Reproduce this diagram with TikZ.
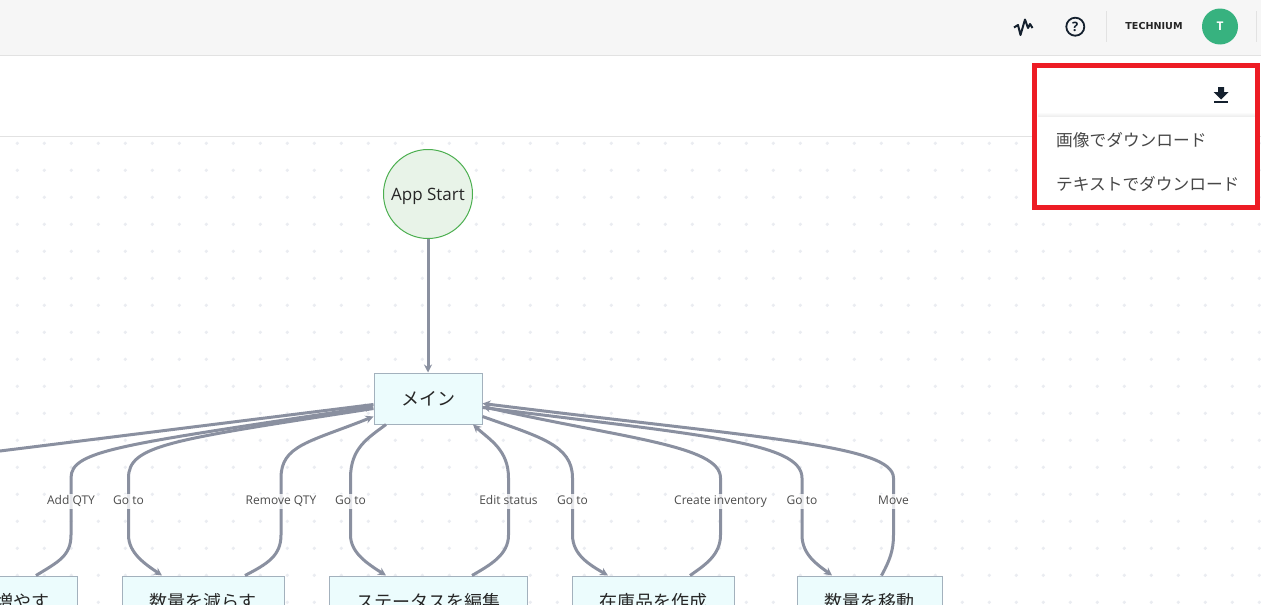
\documentclass[tikz,border=0pt]{standalone}
\usepackage{fontspec}
\setmainfont{Open Sans}
\newfontfamily\jpfont{Noto Sans CJK JP}
\newfontfamily\logofont{DejaVu Sans}
\usetikzlibrary{arrows.meta}
\definecolor{headbg}{HTML}{F6F6F6}
\definecolor{rulegray}{HTML}{E2E2E2}
\definecolor{griddot}{HTML}{EAECF1}
\definecolor{flowgray}{HTML}{8A90A0}
\definecolor{boxfill}{HTML}{ECFCFD}
\definecolor{boxline}{HTML}{A3B1BD}
\definecolor{startfill}{HTML}{E8F3E8}
\definecolor{startline}{HTML}{4CAF50}
\definecolor{iconink}{HTML}{14202E}
\definecolor{avatar}{HTML}{37B27F}
\definecolor{alertred}{HTML}{ED1C24}
\tikzset{
  flowline/.style={draw=flowgray,line width=3pt},
  toarrow/.style={flowline,-{Stealth[length=8pt,width=8pt]}},
  flowlabel/.style={fill=white,fill opacity=.8,text opacity=1,text=black!70,inner sep=1.5pt,text height=9pt,text depth=3pt,yshift=-1.5pt,font=\fontsize{12}{14}\selectfont},
  stepbox/.style={draw=boxline,fill=boxfill,line width=1pt,minimum height=51pt,inner sep=0pt,font=\jpfont\fontsize{18}{20}\selectfont,text=black!85},
  menuitem/.style={anchor=west,inner sep=0pt,text=black!72,font=\jpfont\fontsize{16.7}{18}\selectfont},
}
\begin{document}
\begin{tikzpicture}[x=1pt,y=-1pt]
\useasboundingbox (0,0) rectangle (1261,605);
\clip (0,0) rectangle (1261,605);
\fill[white] (0,0) rectangle (1261,605);
% header
\fill[headbg] (0,0) rectangle (1261,55);
\draw[rulegray,line width=1pt] (0,55.5)--(1261,55.5);
\draw[rulegray,line width=1pt] (0,136.5)--(1261,136.5);
\draw[rulegray,line width=1pt] (1106.5,11)--(1106.5,42);
\draw[rulegray,line width=1pt] (1256.5,11)--(1256.5,42);
% dots
\foreach \col in {0,...,46}
  \foreach \row in {0,...,17}
    \fill[griddot] (17.3+27*\col,143.3+27*\row) circle[radius=1.8pt];
% nodes
\node[circle,draw=startline,fill=startfill,line width=1pt,minimum size=89pt,inner sep=0pt,text=black!85,font=\fontsize{17}{19}\selectfont] (appstart) at (428,194) {\raisebox{-6pt}[0pt][0pt]{App Start}};
\node[stepbox,minimum width=108pt] (mainbox) at (428,398.5) {メイン};
\node[stepbox,minimum width=162pt] (addbox) at (-4,601.5) {数量を増やす};
\node[stepbox,minimum width=162pt] (removebox) at (203,601.5) {数量を減らす};
\node[stepbox,minimum width=198pt] (statusbox) at (428,601.5) {ステータスを編集};
\node[stepbox,minimum width=162pt] (createbox) at (653,601.5) {在庫品を作成};
\node[stepbox,minimum width=145pt] (movebox) at (869.5,601.5) {数量を移動};
% connectors
\draw[toarrow] (appstart)--(mainbox);
\draw[toarrow] ([yshift=-6pt]mainbox.west)--(0,451) .. controls (-50,457) and (-79,462) .. (-79,485)--(-79,535) .. controls (-79,553) and (-62,565) .. ([xshift=-41pt]addbox.north);
\draw[toarrow] ([xshift=40pt]addbox.north) .. controls (58,562) and (71,556) .. (71,535)--(71,500) node[flowlabel]{Add QTY}--(71,478) .. controls (71,450) and (120,445) .. ([yshift=-8pt]mainbox.west);
\draw[toarrow] ([yshift=-10pt]mainbox.west) .. controls (170,440) and (128.5,445) .. (128.5,478)--(128.5,500) node[flowlabel]{Go to}--(128.5,535) .. controls (128.5,553) and (145,564) .. ([xshift=-41pt]removebox.north);
\draw[toarrow] ([xshift=42pt]removebox.north) .. controls (267,564) and (281,556) .. (281,535)--(281,500) node[flowlabel]{Remove QTY}--(281,478) .. controls (281,445) and (310,442) .. ([yshift=-18pt]mainbox.west);
\draw[toarrow] ([xshift=-42pt]mainbox.south) .. controls (368,438) and (350.5,448) .. (350.5,478)--(350.5,500) node[flowlabel]{Go to}--(350.5,535) .. controls (350.5,553) and (368,564) .. ([xshift=-42pt]statusbox.north);
\draw[toarrow] ([xshift=44pt]statusbox.north) .. controls (490,565) and (508.5,555) .. (508.5,535)--(508.5,500) node[flowlabel]{Edit status}--(508.5,478) .. controls (508.5,450) and (490,440) .. ([xshift=45pt]mainbox.south);
\draw[toarrow] ([yshift=-18pt]mainbox.east) .. controls (540,437) and (572.5,445) .. (572.5,478)--(572.5,500) node[flowlabel]{Go to}--(572.5,535) .. controls (572.5,555) and (590,565) .. ([xshift=-45pt]createbox.north);
\draw[toarrow] ([xshift=37pt]createbox.north) .. controls (705,565) and (720.5,555) .. (720.5,535)--(720.5,500) node[flowlabel]{Create inventory}--(720.5,478) .. controls (720.5,445) and (620,438) .. ([yshift=-8pt]mainbox.east);
\draw[toarrow] ([yshift=-9pt]mainbox.east) .. controls (700,435) and (802,442) .. (802,478)--(802,500) node[flowlabel]{Go to}--(802,535) .. controls (802,555) and (818,565) .. ([xshift=-37.5pt]movebox.north);
\draw[toarrow] ([xshift=12pt]movebox.north) .. controls (890,560) and (893.5,550) .. (893.5,535)--(893.5,500) node[flowlabel]{Move}--(893.5,478) .. controls (893.5,445) and (760,438) .. ([yshift=-5pt]mainbox.east);
% right side icons
\draw[iconink,line width=2pt,line join=round] (1014,27.5)--(1018,25)--(1020.5,35)--(1025,19.5)--(1028,28)--(1030,24)--(1032.5,28);
\node[circle,draw=iconink,line width=1.8pt,minimum size=18pt,inner sep=0pt,text=iconink,font=\bfseries\fontsize{13}{15}\selectfont] (helpicon) at (1075.3,26.7) {?};
\node[inner sep=0pt,text=black!85,font=\logofont\bfseries\fontsize{9.6}{11}\selectfont] (logotext) at (1154,26) {TECHNIUM};
\node[circle,fill=avatar,minimum size=36pt,inner sep=0pt,text=white,font=\bfseries\fontsize{12}{14}\selectfont] (avatarnode) at (1220,26.5) {T};
% download menu
\fill[white] (1034,65) rectangle (1258,208);
\shade[top color=white,bottom color=black!7] (1038,112) rectangle (1255,116.5);
\fill[iconink] (1218,87)--(1224,87)--(1224,92)--(1228.5,92)--(1221,99.5)--(1213.5,92)--(1218,92)--cycle;
\fill[iconink] (1214,101)rectangle(1228,102.8);
\node[menuitem] (imagemenu) at (1056,140.5) {画像でダウンロード};
\node[menuitem] (textmenu) at (1056,184) {テキストでダウンロード};
\draw[alertred,line width=5pt] (1034.7,65.2) rectangle (1257.7,207.6);
\end{tikzpicture}
\end{document}
